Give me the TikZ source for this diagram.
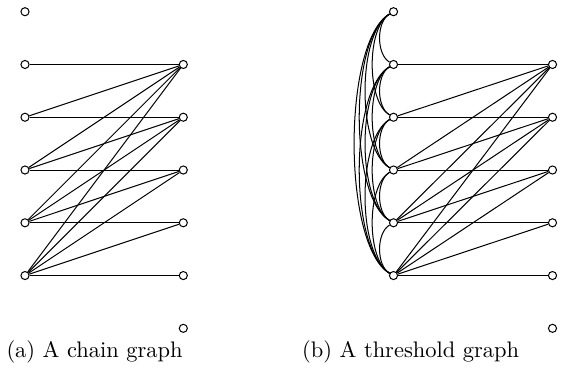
\documentclass[tikz,border=0pt]{standalone}
\begin{document}
\begin{tikzpicture}[x=0.445pt,y=-0.445pt,line width=0.45pt,
  vtx/.style={circle,draw,fill=white,inner sep=0pt,minimum size=3.6pt},
  caption/.style={anchor=base west,inner sep=0pt}]
\useasboundingbox (0,0) rectangle (566,377);
% chain graph
\foreach \i in {0,...,5} \node[vtx] (a\i) at (25,{11.7+52.77*\i}) {};
\foreach \i in {1,...,6} \node[vtx] (b\i) at (183.3,{11.7+52.77*\i}) {};
\foreach \i in {1,...,5} \foreach \j in {1,...,\i} \draw (a\i) -- (b\j);
% threshold graph
\foreach \i in {0,...,5} \node[vtx] (c\i) at (393.5,{11.7+52.77*\i}) {};
\foreach \i in {1,...,6} \node[vtx] (d\i) at (552.5,{11.7+52.77*\i}) {};
\foreach \i in {1,...,5} \foreach \j in {1,...,\i} \draw (c\i) -- (d\j);
\foreach \i/\j/\l in {0/1/0.82,1/2/0.82,2/3/0.82,3/4/0.82,4/5/0.82,
                      0/2/0.68,1/3/0.68,2/4/0.68,3/5/0.68,
                      0/3/0.63,1/4/0.63,2/5/0.63,
                      0/4/0.58,1/5/0.58,
                      0/5/0.54}
  \draw (c\i) to[bend right=60,looseness=\l] (c\j);
% captions
\node[caption] (capa) at (6,357) {(a) A chain graph};
\node[caption] (capb) at (301.7,357) {(b) A threshold graph};
\end{tikzpicture}
\end{document}
